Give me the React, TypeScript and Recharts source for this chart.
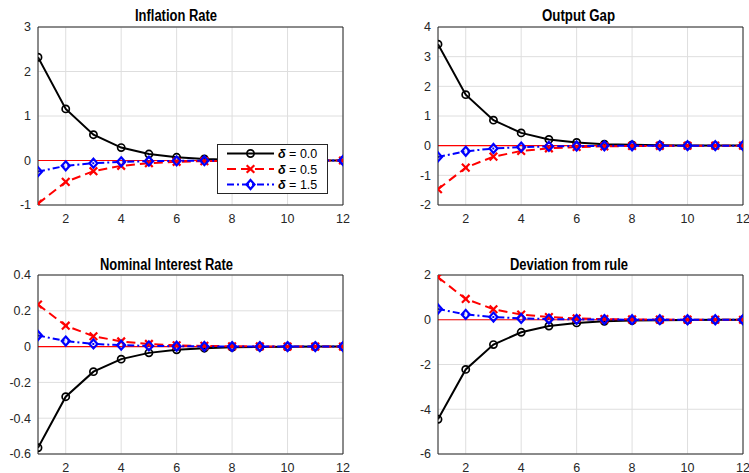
import React from 'react';
import { LineChart, Line, XAxis, YAxis, CartesianGrid, ReferenceLine, Legend } from 'recharts';

const periods = [1, 2, 3, 4, 5, 6, 7, 8, 9, 10, 11, 12];
const xTicks = [2, 4, 6, 8, 10, 12];
const deltaLabels = ['0.0', '0.5', '1.5'];

// Inflation Rate
const inflationD00 = [2.32, 1.16, 0.58, 0.29, 0.145, 0.072, 0.036, 0.018, 0.009, 0.005, 0.002, 0.001];
const inflationD05 = [-0.97, -0.48, -0.24, -0.12, -0.06, -0.03, -0.015, -0.008, -0.004, -0.002, -0.001, 0];
const inflationD15 = [-0.25, -0.12, -0.06, -0.03, -0.015, -0.008, -0.004, -0.002, -0.001, 0, 0, 0];
const inflationTicks = [-1, 0, 1, 2, 3];

// Output Gap
const outputD00 = [3.42, 1.72, 0.86, 0.43, 0.21, 0.11, 0.05, 0.027, 0.013, 0.007, 0.003, 0.002];
const outputD05 = [-1.47, -0.74, -0.37, -0.18, -0.09, -0.045, -0.023, -0.011, -0.006, -0.003, -0.001, 0];
const outputD15 = [-0.38, -0.19, -0.095, -0.048, -0.024, -0.012, -0.006, -0.003, -0.0015, 0, 0, 0];
const outputTicks = [-2, -1, 0, 1, 2, 3, 4];

// Nominal Interest Rate
const interestD00 = [-0.565, -0.28, -0.14, -0.07, -0.035, -0.018, -0.009, -0.004, -0.002, -0.001, 0, 0];
const interestD05 = [0.235, 0.117, 0.058, 0.029, 0.015, 0.007, 0.004, 0.002, 0.001, 0, 0, 0];
const interestD15 = [0.062, 0.031, 0.015, 0.008, 0.004, 0.002, 0.001, 0, 0, 0, 0, 0];
const interestTicks = [-0.6, -0.4, -0.2, 0, 0.2, 0.4];

// Deviation from rule
const deviationD00 = [-4.45, -2.22, -1.11, -0.56, -0.28, -0.14, -0.07, -0.035, -0.017, -0.009, -0.004, -0.002];
const deviationD05 = [1.9, 0.93, 0.47, 0.23, 0.12, 0.06, 0.03, 0.015, 0.007, 0.004, 0.002, 0.001];
const deviationD15 = [0.48, 0.24, 0.12, 0.06, 0.03, 0.015, 0.008, 0.004, 0.002, 0.001, 0, 0];
const deviationTicks = [-6, -4, -2, 0, 2];

const FONT = '"Liberation Sans", Arial, sans-serif';
const AXIS = '#262626';
const TICK = { fill: '#262626', fontSize: 12.5, fontFamily: FONT };

const circleDot = (props: any) => (
    <circle key={`c-${props.index}`} cx={props.cx} cy={props.cy} r={3.6}
        fill="none" stroke="#000" strokeWidth={1.7} strokeDasharray="none" />
);

const crossDot = (props: any) => {
    const { cx, cy } = props;
    const s = 3.8;
    return (
        <path key={`x-${props.index}`}
            d={`M${cx - s},${cy - s}L${cx + s},${cy + s}M${cx - s},${cy + s}L${cx + s},${cy - s}`}
            fill="none" stroke="#ff0000" strokeWidth={2.2} strokeDasharray="none" />
    );
};

const diamondDot = (props: any) => {
    const { cx, cy } = props;
    return (
        <path key={`d-${props.index}`}
            d={`M${cx},${cy - 4.5}L${cx + 4},${cy}L${cx},${cy + 4.5}L${cx - 4},${cy}Z`}
            fill="none" stroke="#0000ff" strokeWidth={2.2} strokeDasharray="none" />
    );
};

function LegendBox() {
    const rows = [
        { color: '#000', dash: 'none', marker: (cx: number, cy: number) => circleDot({ cx, cy, index: 0 }) },
        { color: '#ff0000', dash: '9 5', marker: (cx: number, cy: number) => crossDot({ cx, cy, index: 0 }) },
        { color: '#0000ff', dash: '7 3 2 3', marker: (cx: number, cy: number) => diamondDot({ cx, cy, index: 0 }) },
    ];
    return (
        <div style={{ width: 111, height: 50, border: `1px solid ${AXIS}`, background: '#fff', boxSizing: 'border-box' }}>
            <svg width={109} height={48}>
                {rows.map((r, i) => {
                    const y = 8.5 + i * 15.5;
                    return (
                        <g key={i}>
                            <line x1={9} x2={56} y1={y} y2={y} stroke={r.color} strokeWidth={2} strokeDasharray={r.dash} />
                            {r.marker(32.5, y)}
                            <text x={60} y={y + 4.5} fontSize={12.5} fontFamily={FONT} fill="#000">
                                <tspan fontWeight="bold" fontStyle="italic">δ</tspan>
                                <tspan> = {deltaLabels[i]}</tspan>
                            </text>
                        </g>
                    );
                })}
            </svg>
        </div>
    );
}

interface PanelProps {
    d00: number[];
    d05: number[];
    d15: number[];
    ticks: number[];
    plotHeight: number;
    showLegend?: boolean;
}

function Panel({ d00, d05, d15, ticks, plotHeight, showLegend }: PanelProps) {
    const data = periods.map((t, i) => ({ t, a: d00[i], b: d05[i], c: d15[i] }));
    const yMin = ticks[0];
    const yMax = ticks[ticks.length - 1];
    return (
        <LineChart width={380} height={27 + plotHeight + 35} data={data}
            margin={{ top: 27, right: 37, left: 0, bottom: 15 }}>
            <CartesianGrid stroke="#dedede" strokeWidth={1} />
            <XAxis dataKey="t" type="number" domain={[1, 12]} ticks={xTicks} allowDataOverflow
                height={20} tickLine={false} tickSize={0} tickMargin={9}
                axisLine={{ stroke: AXIS }} tick={TICK} interval={0} />
            <YAxis type="number" domain={[yMin, yMax]} ticks={ticks} allowDataOverflow
                width={38} tickLine={false} tickSize={0} tickMargin={7}
                axisLine={{ stroke: AXIS }} tick={TICK} interval={0} />
            <ReferenceLine y={0} stroke="#ff0000" strokeWidth={1.2} />
            <Line dataKey="a" stroke="#000" strokeWidth={2} dot={circleDot} isAnimationActive={false} />
            <Line dataKey="b" stroke="#ff0000" strokeWidth={2} strokeDasharray="9 5" dot={crossDot} isAnimationActive={false} />
            <Line dataKey="c" stroke="#0000ff" strokeWidth={2} strokeDasharray="7 3 2 3" dot={diamondDot} isAnimationActive={false} />
            <ReferenceLine x={12} stroke={AXIS} strokeWidth={1} />
            <ReferenceLine y={yMax} stroke={AXIS} strokeWidth={1} />
            {showLegend && (
                <Legend layout="vertical" align="center" verticalAlign="middle"
                    content={() => <LegendBox />}
                    wrapperStyle={{ left: 217, top: 144, width: 111, height: 50 }} />
            )}
        </LineChart>
    );
}

const titles = [
    { text: 'Inflation Rate', x: 135, y: 21, w: 82 },
    { text: 'Output Gap', x: 542, y: 21, w: 73 },
    { text: 'Nominal Interest Rate', x: 100, y: 270, w: 133 },
    { text: 'Deviation from rule', x: 510, y: 270, w: 118 },
];

export default function App() {
    return (
        <div style={{ position: 'absolute', left: 0, top: 0, width: 749, height: 473, overflow: 'hidden', background: '#fff', fontFamily: FONT }}>
            <div style={{ position: 'absolute', left: 0, top: 0 }}>
                <Panel d00={inflationD00} d05={inflationD05} d15={inflationD15} ticks={inflationTicks} plotHeight={178} showLegend />
            </div>
            <div style={{ position: 'absolute', left: 400, top: 0 }}>
                <Panel d00={outputD00} d05={outputD05} d15={outputD15} ticks={outputTicks} plotHeight={178} />
            </div>
            <div style={{ position: 'absolute', left: 0, top: 248 }}>
                <Panel d00={interestD00} d05={interestD05} d15={interestD15} ticks={interestTicks} plotHeight={179} />
            </div>
            <div style={{ position: 'absolute', left: 400, top: 248 }}>
                <Panel d00={deviationD00} d05={deviationD05} d15={deviationD15} ticks={deviationTicks} plotHeight={179} />
            </div>
            <svg width={749} height={473} style={{ position: 'absolute', left: 0, top: 0, pointerEvents: 'none' }}>
                {titles.map((t) => (
                    <text key={t.text} x={t.x} y={t.y} textLength={t.w} lengthAdjust="spacingAndGlyphs"
                        fontSize={16} fontWeight="bold" fontFamily={FONT} fill="#000">
                        {t.text}
                    </text>
                ))}
            </svg>
        </div>
    );
}
